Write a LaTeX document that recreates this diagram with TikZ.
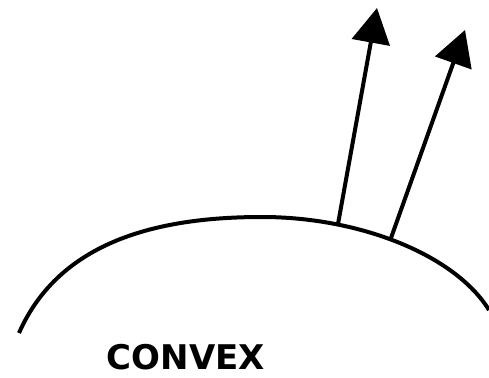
\documentclass[tikz,border=0pt]{standalone}
\usepackage{fontspec}
\setmainfont{DejaVu Sans}
\usetikzlibrary{arrows.meta}
\begin{document}
\begin{tikzpicture}[x=1pt,y=-1pt,
  curve/.style={line width=4pt},
  normal/.style={line width=4pt,-{Triangle[length=35pt,width=38pt]}},
  label/.style={font=\bfseries\fontsize{34}{36}\selectfont,inner sep=0pt}]
\useasboundingbox (0,0) rectangle (489,377);
\coordinate (L) at (19,333);
\coordinate (T) at (262,217);
\coordinate (R) at (489,310);
\draw[curve] (L) .. controls (60,240) and (160,217) .. (T)
  .. controls (360,217) and (455,255) .. (R);
\coordinate (b1) at (338,224);
\coordinate (t1) at (377,8);
\coordinate (b2) at (391,238);
\coordinate (t2) at (465,30);
\draw[normal] (b1) -- (t1);
\draw[normal] (b2) -- (t2);
\node[label] (convex) at (186,357) {CONVEX};
\end{tikzpicture}
\end{document}
